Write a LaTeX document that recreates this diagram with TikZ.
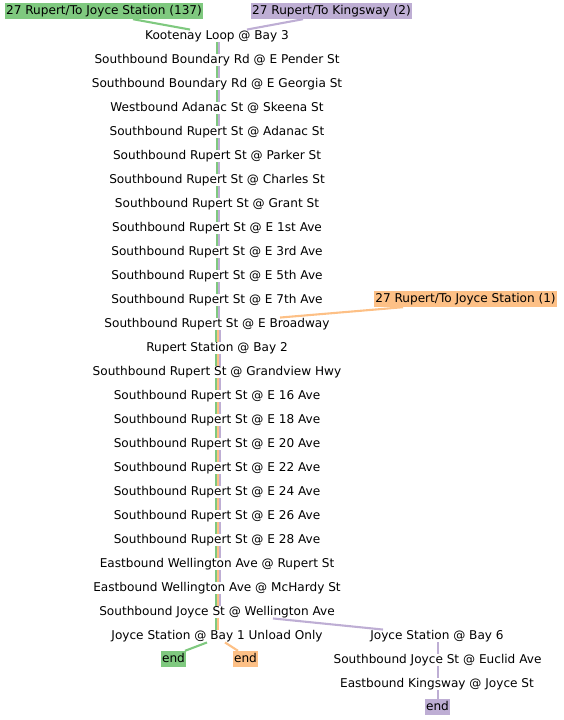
\documentclass[tikz,border=0pt]{standalone}
\usepackage{fontspec}
\setmainfont{DejaVu Sans}
\definecolor{cg}{HTML}{7FC97F}
\definecolor{cp}{HTML}{BEAED4}
\definecolor{co}{HTML}{FDC086}
\begin{document}
\begin{tikzpicture}[x=1pt,y=-1pt,
  every node/.style={font=\fontsize{12.1}{14}\selectfont},
  stop/.style={inner xsep=2pt, inner ysep=0.5pt, text height=9pt, text depth=2.5pt},
  lab/.style={inner xsep=1.5pt, inner ysep=2.25pt, text height=9pt, text depth=2.5pt},
  seg/.style={line width=2.3pt},
  link/.style={line width=2.1pt}]
\useasboundingbox (0,0) rectangle (563,720);
\foreach \t [count=\i from 0] in {Kootenay Loop @ Bay 3,
  Southbound Boundary Rd @ E Pender St,
  Southbound Boundary Rd @ E Georgia St,
  Westbound Adanac St @ Skeena St,
  Southbound Rupert St @ Adanac St,
  Southbound Rupert St @ Parker St,
  Southbound Rupert St @ Charles St,
  Southbound Rupert St @ Grant St,
  Southbound Rupert St @ E 1st Ave,
  Southbound Rupert St @ E 3rd Ave,
  Southbound Rupert St @ E 5th Ave,
  Southbound Rupert St @ E 7th Ave,
  Southbound Rupert St @ E Broadway,
  Rupert Station @ Bay 2,
  Southbound Rupert St @ Grandview Hwy,
  Southbound Rupert St @ E 16 Ave,
  Southbound Rupert St @ E 18 Ave,
  Southbound Rupert St @ E 20 Ave,
  Southbound Rupert St @ E 22 Ave,
  Southbound Rupert St @ E 24 Ave,
  Southbound Rupert St @ E 26 Ave,
  Southbound Rupert St @ E 28 Ave,
  Eastbound Wellington Ave @ Rupert St,
  Eastbound Wellington Ave @ McHardy St,
  Southbound Joyce St @ Wellington Ave,
  Joyce Station @ Bay 1 Unload Only}
  \node[stop] (s\i) at (217,{36+24*\i}) {\t};
\node[stop] (b6) at (437,636) {Joyce Station @ Bay 6};
\node[stop] (eu) at (437.5,660) {Southbound Joyce St @ Euclid Ave};
\node[stop] (kw) at (437,684) {Eastbound Kingsway @ Joyce St};
\node[lab,fill=cg] (lg) at (104,11) {27 Rupert/To Joyce Station (137)};
\node[lab,fill=cp] (lp) at (331.5,11) {27 Rupert/To Kingsway (2)};
\node[lab,fill=co] (lo) at (465.5,299) {27 Rupert/To Joyce Station (1)};
\node[lab,fill=cg] (eg) at (173.5,659) {end};
\node[lab,fill=co] (eo) at (245.5,659) {end};
\node[lab,fill=cp] (ep) at (437.5,707) {end};
% vertical segments
\foreach \i in {0,...,11}{
  \pgfmathtruncatemacro\j{\i+1}
  \draw[seg,cg] ([xshift=-0.2pt]s\i.south) -- ([xshift=-0.2pt]s\j.north);
  \draw[seg,cp] ([xshift=2.2pt]s\i.south) -- ([xshift=2.2pt]s\j.north);
}
\foreach \i in {12,...,23}{
  \pgfmathtruncatemacro\j{\i+1}
  \draw[seg,cg] ([xshift=-1.2pt]s\i.south) -- ([xshift=-1.2pt]s\j.north);
  \draw[seg,co] ([xshift=1pt]s\i.south) -- ([xshift=1pt]s\j.north);
  \draw[seg,cp] ([xshift=3.2pt]s\i.south) -- ([xshift=3.2pt]s\j.north);
}
\draw[seg,cg] ([xshift=-1.2pt]s24.south) -- ([xshift=-1.2pt]s25.north);
\draw[seg,co] ([xshift=1pt]s24.south) -- ([xshift=1pt]s25.north);
% links
\draw[link,cg] ([xshift=29pt]lg.south) -- ([xshift=-27pt]s0.north);
\draw[link,cp] ([xshift=-28.5pt]lp.south) -- ([xshift=30pt]s0.north);
\draw[link,co] ([xshift=-62.5pt]lo.south) -- ([xshift=63pt]s12.north);
\draw[link,cp] ([xshift=56pt]s24.south) -- ([xshift=-54pt]b6.north);
\draw[link,cg] ([xshift=-10pt]s25.south) -- ([xshift=11.5pt]eg.north);
\draw[link,co] ([xshift=8pt]s25.south) -- ([xshift=-7.5pt]eo.north);
\draw[link,cp] ([xshift=1pt]b6.south) -- ([xshift=0.5pt]eu.north);
\draw[link,cp] ([xshift=0.5pt]eu.south) -- ([xshift=1pt]kw.north);
\draw[link,cp] ([xshift=1pt]kw.south) -- ([xshift=0.5pt]ep.north);
\end{tikzpicture}
\end{document}
